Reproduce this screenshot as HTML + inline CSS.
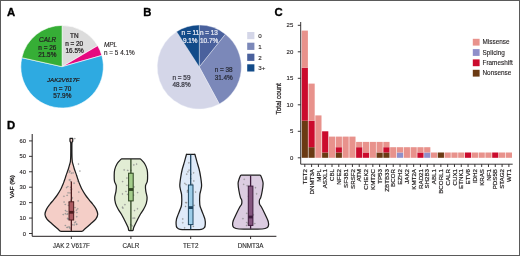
<!DOCTYPE html><html><head><meta charset="utf-8"><style>html,body{margin:0;padding:0;background:#fff;overflow:hidden;width:520px;height:256px;}svg{display:block;will-change:transform;font-family:"Liberation Sans",sans-serif;}</style></head><body>
<svg width="520" height="256" viewBox="0 0 520 256">
<rect x="0" y="0" width="520" height="256" fill="#fff"/>
<text x="6.9" y="16.0" font-size="11.3" font-weight="bold" fill="#000" stroke="#000" stroke-width="0.35">A</text>
<text x="143.3" y="16.4" font-size="11.3" font-weight="bold" fill="#000" stroke="#000" stroke-width="0.35">B</text>
<text x="274.5" y="16.2" font-size="11.3" font-weight="bold" fill="#000" stroke="#000" stroke-width="0.35">C</text>
<text x="6.9" y="128.6" font-size="11.3" font-weight="bold" fill="#000" stroke="#000" stroke-width="0.35">D</text>
<path d="M62.10,66.70 L62.10,25.40 A41.3,41.3 0 0 1 97.65,45.68 Z" fill="#dcdcdc" stroke="#fff" stroke-width="0.6" stroke-linejoin="round"/>
<path d="M62.10,66.70 L97.65,45.68 A41.3,41.3 0 0 1 101.83,55.43 Z" fill="#e5097f" stroke="#fff" stroke-width="0.6" stroke-linejoin="round"/>
<path d="M62.10,66.70 L101.83,55.43 A41.3,41.3 0 1 1 21.79,57.69 Z" fill="#2eaae1" stroke="#fff" stroke-width="0.6" stroke-linejoin="round"/>
<path d="M62.10,66.70 L21.79,57.69 A41.3,41.3 0 0 1 62.10,25.40 Z" fill="#36ae36" stroke="#fff" stroke-width="0.6" stroke-linejoin="round"/>
<text x="47.6" y="41.8" font-size="6.4" text-anchor="middle" fill="#231f20" stroke="#231f20" stroke-width="0.24" font-style="italic">CALR</text>
<text x="47.3" y="49.7" font-size="6.4" text-anchor="middle" fill="#231f20" stroke="#231f20" stroke-width="0.24" >n = 26</text>
<text x="47.3" y="57.3" font-size="6.4" text-anchor="middle" fill="#231f20" stroke="#231f20" stroke-width="0.24" >21.5%</text>
<text x="74.3" y="38" font-size="6.4" text-anchor="middle" fill="#231f20" stroke="#231f20" stroke-width="0.24" >TN</text>
<text x="74.2" y="45.8" font-size="6.4" text-anchor="middle" fill="#231f20" stroke="#231f20" stroke-width="0.24" >n = 20</text>
<text x="74.6" y="53.2" font-size="6.4" text-anchor="middle" fill="#231f20" stroke="#231f20" stroke-width="0.24" >16.5%</text>
<text x="63.3" y="82.3" font-size="6.1" text-anchor="middle" fill="#231f20" stroke="#231f20" stroke-width="0.24" font-style="italic">JAK2V617F</text>
<text x="62.4" y="90.5" font-size="6.4" text-anchor="middle" fill="#231f20" stroke="#231f20" stroke-width="0.24" >n = 70</text>
<text x="62.3" y="97.5" font-size="6.4" text-anchor="middle" fill="#231f20" stroke="#231f20" stroke-width="0.24" >57.9%</text>
<text x="104.0" y="47.2" font-size="6.4" text-anchor="start" fill="#231f20" stroke="#231f20" stroke-width="0.12" font-style="italic">MPL</text>
<text x="104.0" y="55" font-size="6.4" text-anchor="start" fill="#231f20" stroke="#231f20" stroke-width="0.12" >n = 5 4.1%</text>
<path d="M199.30,67.00 L199.30,25.00 A42,42 0 0 1 225.46,34.14 Z" fill="#4a619d" stroke="#eef0f8" stroke-width="0.4" stroke-linejoin="round"/>
<path d="M199.30,67.00 L225.46,34.14 A42,42 0 0 1 219.30,103.93 Z" fill="#7b88b9" stroke="#eef0f8" stroke-width="0.4" stroke-linejoin="round"/>
<path d="M199.30,67.00 L219.30,103.93 A42,42 0 0 1 176.57,31.68 Z" fill="#d4d6e8" stroke="#eef0f8" stroke-width="0.4" stroke-linejoin="round"/>
<path d="M199.30,67.00 L176.57,31.68 A42,42 0 0 1 199.30,25.00 Z" fill="#124b89" stroke="#eef0f8" stroke-width="0.4" stroke-linejoin="round"/>
<text x="190.3" y="34.8" font-size="6.4" text-anchor="middle" fill="#e8eaf4" stroke="#e8eaf4" stroke-width="0.24" >n = 11</text>
<text x="190.2" y="42.7" font-size="6.4" text-anchor="middle" fill="#e8eaf4" stroke="#e8eaf4" stroke-width="0.24" >9.1%</text>
<text x="208.9" y="34.8" font-size="6.4" text-anchor="middle" fill="#e8eaf4" stroke="#e8eaf4" stroke-width="0.24" >n = 13</text>
<text x="209.1" y="42.7" font-size="6.4" text-anchor="middle" fill="#e8eaf4" stroke="#e8eaf4" stroke-width="0.24" >10.7%</text>
<text x="223.7" y="72.2" font-size="6.4" text-anchor="middle" fill="#2a2d3a" stroke="#2a2d3a" stroke-width="0.24" >n = 38</text>
<text x="223.7" y="79.5" font-size="6.4" text-anchor="middle" fill="#2a2d3a" stroke="#2a2d3a" stroke-width="0.24" >31.4%</text>
<text x="181.5" y="80" font-size="6.4" text-anchor="middle" fill="#3a3a44" stroke="#3a3a44" stroke-width="0.24" >n = 59</text>
<text x="181.5" y="87.3" font-size="6.4" text-anchor="middle" fill="#3a3a44" stroke="#3a3a44" stroke-width="0.24" >48.8%</text>
<rect x="247.2" y="32" width="7.2" height="7.2" fill="#d4d6e8"/>
<text x="258.2" y="37.8" font-size="6.2" text-anchor="start" fill="#231f20" stroke="#231f20" stroke-width="0.12" >0</text>
<rect x="247.2" y="42.7" width="7.2" height="7.2" fill="#7b88b9"/>
<text x="258.2" y="48.5" font-size="6.2" text-anchor="start" fill="#231f20" stroke="#231f20" stroke-width="0.12" >1</text>
<rect x="247.2" y="53.7" width="7.2" height="7.2" fill="#4a619d"/>
<text x="258.2" y="59.5" font-size="6.2" text-anchor="start" fill="#231f20" stroke="#231f20" stroke-width="0.12" >2</text>
<rect x="247.2" y="64.3" width="7.2" height="7.2" fill="#124b89"/>
<text x="258.2" y="70.1" font-size="6.2" text-anchor="start" fill="#231f20" stroke="#231f20" stroke-width="0.12" >3+</text>
<rect x="301.70" y="120.70" width="6.2" height="37.10" fill="#6b3a13"/>
<rect x="301.70" y="67.70" width="6.2" height="53.00" fill="#cb0b2d"/>
<rect x="301.70" y="30.60" width="6.2" height="37.10" fill="#e8928c"/>
<rect x="308.50" y="147.20" width="6.2" height="10.60" fill="#6b3a13"/>
<rect x="308.50" y="120.70" width="6.2" height="26.50" fill="#cb0b2d"/>
<rect x="308.50" y="83.60" width="6.2" height="37.10" fill="#e8928c"/>
<rect x="315.31" y="115.40" width="6.2" height="42.40" fill="#e8928c"/>
<rect x="322.11" y="152.50" width="6.2" height="5.30" fill="#6b3a13"/>
<rect x="322.11" y="131.30" width="6.2" height="21.20" fill="#cb0b2d"/>
<rect x="328.91" y="136.60" width="6.2" height="21.20" fill="#e8928c"/>
<rect x="335.71" y="152.50" width="6.2" height="5.30" fill="#6b3a13"/>
<rect x="335.71" y="147.20" width="6.2" height="5.30" fill="#cb0b2d"/>
<rect x="335.71" y="136.60" width="6.2" height="10.60" fill="#e8928c"/>
<rect x="342.52" y="136.60" width="6.2" height="21.20" fill="#e8928c"/>
<rect x="349.32" y="136.60" width="6.2" height="21.20" fill="#e8928c"/>
<rect x="356.12" y="147.20" width="6.2" height="10.60" fill="#cb0b2d"/>
<rect x="356.12" y="141.90" width="6.2" height="5.30" fill="#e8928c"/>
<rect x="362.93" y="152.50" width="6.2" height="5.30" fill="#cb0b2d"/>
<rect x="362.93" y="141.90" width="6.2" height="10.60" fill="#e8928c"/>
<rect x="369.73" y="141.90" width="6.2" height="15.90" fill="#e8928c"/>
<rect x="376.53" y="152.50" width="6.2" height="5.30" fill="#6b3a13"/>
<rect x="376.53" y="141.90" width="6.2" height="10.60" fill="#e8928c"/>
<rect x="383.34" y="152.50" width="6.2" height="5.30" fill="#6b3a13"/>
<rect x="383.34" y="147.20" width="6.2" height="5.30" fill="#cb0b2d"/>
<rect x="383.34" y="141.90" width="6.2" height="5.30" fill="#e8928c"/>
<rect x="390.14" y="147.20" width="6.2" height="10.60" fill="#e8928c"/>
<rect x="396.94" y="152.50" width="6.2" height="5.30" fill="#8f8fca"/>
<rect x="396.94" y="147.20" width="6.2" height="5.30" fill="#e8928c"/>
<rect x="403.75" y="147.20" width="6.2" height="10.60" fill="#e8928c"/>
<rect x="410.55" y="147.20" width="6.2" height="10.60" fill="#e8928c"/>
<rect x="417.35" y="152.50" width="6.2" height="5.30" fill="#cb0b2d"/>
<rect x="417.35" y="147.20" width="6.2" height="5.30" fill="#e8928c"/>
<rect x="424.15" y="152.50" width="6.2" height="5.30" fill="#8f8fca"/>
<rect x="424.15" y="147.20" width="6.2" height="5.30" fill="#e8928c"/>
<rect x="430.96" y="152.50" width="6.2" height="5.30" fill="#e8928c"/>
<rect x="437.76" y="152.50" width="6.2" height="5.30" fill="#6b3a13"/>
<rect x="444.56" y="152.50" width="6.2" height="5.30" fill="#e8928c"/>
<rect x="451.37" y="152.50" width="6.2" height="5.30" fill="#e8928c"/>
<rect x="458.17" y="152.50" width="6.2" height="5.30" fill="#e8928c"/>
<rect x="464.97" y="152.50" width="6.2" height="5.30" fill="#cb0b2d"/>
<rect x="471.77" y="152.50" width="6.2" height="5.30" fill="#e8928c"/>
<rect x="478.58" y="152.50" width="6.2" height="5.30" fill="#e8928c"/>
<rect x="485.38" y="152.50" width="6.2" height="5.30" fill="#e8928c"/>
<rect x="492.18" y="152.50" width="6.2" height="5.30" fill="#cb0b2d"/>
<rect x="498.99" y="152.50" width="6.2" height="5.30" fill="#e8928c"/>
<rect x="505.79" y="152.50" width="6.2" height="5.30" fill="#e8928c"/>
<path d="M300.7,22 V164.2 H512.7" fill="none" stroke="#231f20" stroke-width="0.9"/>
<line x1="297.8" y1="157.80" x2="300.7" y2="157.80" stroke="#231f20" stroke-width="0.9"/>
<text x="293.3" y="159.9" font-size="6.0" text-anchor="end" fill="#231f20" stroke="#231f20" stroke-width="0.12" >0</text>
<line x1="297.8" y1="131.30" x2="300.7" y2="131.30" stroke="#231f20" stroke-width="0.9"/>
<text x="293.3" y="133.4" font-size="6.0" text-anchor="end" fill="#231f20" stroke="#231f20" stroke-width="0.12" >5</text>
<line x1="297.8" y1="104.80" x2="300.7" y2="104.80" stroke="#231f20" stroke-width="0.9"/>
<text x="293.3" y="106.9" font-size="6.0" text-anchor="end" fill="#231f20" stroke="#231f20" stroke-width="0.12" >10</text>
<line x1="297.8" y1="78.30" x2="300.7" y2="78.30" stroke="#231f20" stroke-width="0.9"/>
<text x="293.3" y="80.4" font-size="6.0" text-anchor="end" fill="#231f20" stroke="#231f20" stroke-width="0.12" >15</text>
<line x1="297.8" y1="51.80" x2="300.7" y2="51.80" stroke="#231f20" stroke-width="0.9"/>
<text x="293.3" y="53.90000000000001" font-size="6.0" text-anchor="end" fill="#231f20" stroke="#231f20" stroke-width="0.12" >20</text>
<line x1="297.8" y1="25.30" x2="300.7" y2="25.30" stroke="#231f20" stroke-width="0.9"/>
<text x="293.3" y="27.400000000000013" font-size="6.0" text-anchor="end" fill="#231f20" stroke="#231f20" stroke-width="0.12" >25</text>
<line x1="304.80" y1="164.2" x2="304.80" y2="167" stroke="#231f20" stroke-width="0.9"/>
<text transform="translate(306.90,169.0) rotate(-90)" font-size="6.2" text-anchor="end" fill="#231f20" stroke="#231f20" stroke-width="0.2">TET2</text>
<line x1="311.60" y1="164.2" x2="311.60" y2="167" stroke="#231f20" stroke-width="0.9"/>
<text transform="translate(313.70,169.0) rotate(-90)" font-size="6.2" text-anchor="end" fill="#231f20" stroke="#231f20" stroke-width="0.2">DNMT3A</text>
<line x1="318.41" y1="164.2" x2="318.41" y2="167" stroke="#231f20" stroke-width="0.9"/>
<text transform="translate(320.51,169.0) rotate(-90)" font-size="6.2" text-anchor="end" fill="#231f20" stroke="#231f20" stroke-width="0.2">MPL</text>
<line x1="325.21" y1="164.2" x2="325.21" y2="167" stroke="#231f20" stroke-width="0.9"/>
<text transform="translate(327.31,169.0) rotate(-90)" font-size="6.2" text-anchor="end" fill="#231f20" stroke="#231f20" stroke-width="0.2">ASXL1</text>
<line x1="332.01" y1="164.2" x2="332.01" y2="167" stroke="#231f20" stroke-width="0.9"/>
<text transform="translate(334.11,169.0) rotate(-90)" font-size="6.2" text-anchor="end" fill="#231f20" stroke="#231f20" stroke-width="0.2">CBL</text>
<line x1="338.81" y1="164.2" x2="338.81" y2="167" stroke="#231f20" stroke-width="0.9"/>
<text transform="translate(340.92,169.0) rotate(-90)" font-size="6.2" text-anchor="end" fill="#231f20" stroke="#231f20" stroke-width="0.2">NFE2</text>
<line x1="345.62" y1="164.2" x2="345.62" y2="167" stroke="#231f20" stroke-width="0.9"/>
<text transform="translate(347.72,169.0) rotate(-90)" font-size="6.2" text-anchor="end" fill="#231f20" stroke="#231f20" stroke-width="0.2">SF3B1</text>
<line x1="352.42" y1="164.2" x2="352.42" y2="167" stroke="#231f20" stroke-width="0.9"/>
<text transform="translate(354.52,169.0) rotate(-90)" font-size="6.2" text-anchor="end" fill="#231f20" stroke="#231f20" stroke-width="0.2">SRSF2</text>
<line x1="359.22" y1="164.2" x2="359.22" y2="167" stroke="#231f20" stroke-width="0.9"/>
<text transform="translate(361.32,169.0) rotate(-90)" font-size="6.2" text-anchor="end" fill="#231f20" stroke="#231f20" stroke-width="0.2">ATM</text>
<line x1="366.03" y1="164.2" x2="366.03" y2="167" stroke="#231f20" stroke-width="0.9"/>
<text transform="translate(368.13,169.0) rotate(-90)" font-size="6.2" text-anchor="end" fill="#231f20" stroke="#231f20" stroke-width="0.2">CHEK2</text>
<line x1="372.83" y1="164.2" x2="372.83" y2="167" stroke="#231f20" stroke-width="0.9"/>
<text transform="translate(374.93,169.0) rotate(-90)" font-size="6.2" text-anchor="end" fill="#231f20" stroke="#231f20" stroke-width="0.2">KMT2C</text>
<line x1="379.63" y1="164.2" x2="379.63" y2="167" stroke="#231f20" stroke-width="0.9"/>
<text transform="translate(381.73,169.0) rotate(-90)" font-size="6.2" text-anchor="end" fill="#231f20" stroke="#231f20" stroke-width="0.2">TP53</text>
<line x1="386.44" y1="164.2" x2="386.44" y2="167" stroke="#231f20" stroke-width="0.9"/>
<text transform="translate(388.54,169.0) rotate(-90)" font-size="6.2" text-anchor="end" fill="#231f20" stroke="#231f20" stroke-width="0.2">ZBTB33</text>
<line x1="393.24" y1="164.2" x2="393.24" y2="167" stroke="#231f20" stroke-width="0.9"/>
<text transform="translate(395.34,169.0) rotate(-90)" font-size="6.2" text-anchor="end" fill="#231f20" stroke="#231f20" stroke-width="0.2">BCOR</text>
<line x1="400.04" y1="164.2" x2="400.04" y2="167" stroke="#231f20" stroke-width="0.9"/>
<text transform="translate(402.14,169.0) rotate(-90)" font-size="6.2" text-anchor="end" fill="#231f20" stroke="#231f20" stroke-width="0.2">EZH2</text>
<line x1="406.85" y1="164.2" x2="406.85" y2="167" stroke="#231f20" stroke-width="0.9"/>
<text transform="translate(408.95,169.0) rotate(-90)" font-size="6.2" text-anchor="end" fill="#231f20" stroke="#231f20" stroke-width="0.2">JAK2</text>
<line x1="413.65" y1="164.2" x2="413.65" y2="167" stroke="#231f20" stroke-width="0.9"/>
<text transform="translate(415.75,169.0) rotate(-90)" font-size="6.2" text-anchor="end" fill="#231f20" stroke="#231f20" stroke-width="0.2">KMT2A</text>
<line x1="420.45" y1="164.2" x2="420.45" y2="167" stroke="#231f20" stroke-width="0.9"/>
<text transform="translate(422.55,169.0) rotate(-90)" font-size="6.2" text-anchor="end" fill="#231f20" stroke="#231f20" stroke-width="0.2">RAD21</text>
<line x1="427.25" y1="164.2" x2="427.25" y2="167" stroke="#231f20" stroke-width="0.9"/>
<text transform="translate(429.35,169.0) rotate(-90)" font-size="6.2" text-anchor="end" fill="#231f20" stroke="#231f20" stroke-width="0.2">SH2B3</text>
<line x1="434.06" y1="164.2" x2="434.06" y2="167" stroke="#231f20" stroke-width="0.9"/>
<text transform="translate(436.16,169.0) rotate(-90)" font-size="6.2" text-anchor="end" fill="#231f20" stroke="#231f20" stroke-width="0.2">ABL1</text>
<line x1="440.86" y1="164.2" x2="440.86" y2="167" stroke="#231f20" stroke-width="0.9"/>
<text transform="translate(442.96,169.0) rotate(-90)" font-size="6.2" text-anchor="end" fill="#231f20" stroke="#231f20" stroke-width="0.2">BCORL1</text>
<line x1="447.66" y1="164.2" x2="447.66" y2="167" stroke="#231f20" stroke-width="0.9"/>
<text transform="translate(449.76,169.0) rotate(-90)" font-size="6.2" text-anchor="end" fill="#231f20" stroke="#231f20" stroke-width="0.2">CALR</text>
<line x1="454.47" y1="164.2" x2="454.47" y2="167" stroke="#231f20" stroke-width="0.9"/>
<text transform="translate(456.57,169.0) rotate(-90)" font-size="6.2" text-anchor="end" fill="#231f20" stroke="#231f20" stroke-width="0.2">CUX1</text>
<line x1="461.27" y1="164.2" x2="461.27" y2="167" stroke="#231f20" stroke-width="0.9"/>
<text transform="translate(463.37,169.0) rotate(-90)" font-size="6.2" text-anchor="end" fill="#231f20" stroke="#231f20" stroke-width="0.2">ETNK1</text>
<line x1="468.07" y1="164.2" x2="468.07" y2="167" stroke="#231f20" stroke-width="0.9"/>
<text transform="translate(470.17,169.0) rotate(-90)" font-size="6.2" text-anchor="end" fill="#231f20" stroke="#231f20" stroke-width="0.2">ETV6</text>
<line x1="474.88" y1="164.2" x2="474.88" y2="167" stroke="#231f20" stroke-width="0.9"/>
<text transform="translate(476.98,169.0) rotate(-90)" font-size="6.2" text-anchor="end" fill="#231f20" stroke="#231f20" stroke-width="0.2">IDH2</text>
<line x1="481.68" y1="164.2" x2="481.68" y2="167" stroke="#231f20" stroke-width="0.9"/>
<text transform="translate(483.78,169.0) rotate(-90)" font-size="6.2" text-anchor="end" fill="#231f20" stroke="#231f20" stroke-width="0.2">KRAS</text>
<line x1="488.48" y1="164.2" x2="488.48" y2="167" stroke="#231f20" stroke-width="0.9"/>
<text transform="translate(490.58,169.0) rotate(-90)" font-size="6.2" text-anchor="end" fill="#231f20" stroke="#231f20" stroke-width="0.2">NF1</text>
<line x1="495.28" y1="164.2" x2="495.28" y2="167" stroke="#231f20" stroke-width="0.9"/>
<text transform="translate(497.38,169.0) rotate(-90)" font-size="6.2" text-anchor="end" fill="#231f20" stroke="#231f20" stroke-width="0.2">PDS5B</text>
<line x1="502.09" y1="164.2" x2="502.09" y2="167" stroke="#231f20" stroke-width="0.9"/>
<text transform="translate(504.19,169.0) rotate(-90)" font-size="6.2" text-anchor="end" fill="#231f20" stroke="#231f20" stroke-width="0.2">STAG2</text>
<line x1="508.89" y1="164.2" x2="508.89" y2="167" stroke="#231f20" stroke-width="0.9"/>
<text transform="translate(510.99,169.0) rotate(-90)" font-size="6.2" text-anchor="end" fill="#231f20" stroke="#231f20" stroke-width="0.2">WT1</text>
<text transform="translate(281.4,98.8) rotate(-90)" font-size="6.5" text-anchor="middle" fill="#231f20" stroke="#231f20" stroke-width="0.25">Total count</text>
<rect x="472.8" y="38.8" width="6.8" height="6.8" fill="#e8928c"/>
<text x="482.5" y="44.4" font-size="6.4" text-anchor="start" fill="#231f20" stroke="#231f20" stroke-width="0.12" >Missense</text>
<rect x="472.8" y="49.1" width="6.8" height="6.8" fill="#8f8fca"/>
<text x="482.5" y="54.7" font-size="6.4" text-anchor="start" fill="#231f20" stroke="#231f20" stroke-width="0.12" >Splicing</text>
<rect x="472.8" y="59.4" width="6.8" height="6.8" fill="#cb0b2d"/>
<text x="482.5" y="65.0" font-size="6.4" text-anchor="start" fill="#231f20" stroke="#231f20" stroke-width="0.12" >Frameshift</text>
<rect x="472.8" y="69.8" width="6.8" height="6.8" fill="#6b3a13"/>
<text x="482.5" y="75.39999999999999" font-size="6.4" text-anchor="start" fill="#231f20" stroke="#231f20" stroke-width="0.12" >Nonsense</text>
<path d="M32.2,134 V236.3 H276.4" fill="none" stroke="#231f20" stroke-width="1"/>
<line x1="29" y1="233.50" x2="32.2" y2="233.50" stroke="#231f20" stroke-width="0.9"/>
<text x="26.0" y="235.5" font-size="5.8" text-anchor="end" fill="#231f20" stroke="#231f20" stroke-width="0.12" >0</text>
<line x1="29" y1="218.07" x2="32.2" y2="218.07" stroke="#231f20" stroke-width="0.9"/>
<text x="26.0" y="220.07" font-size="5.8" text-anchor="end" fill="#231f20" stroke="#231f20" stroke-width="0.12" >10</text>
<line x1="29" y1="202.64" x2="32.2" y2="202.64" stroke="#231f20" stroke-width="0.9"/>
<text x="26.0" y="204.64" font-size="5.8" text-anchor="end" fill="#231f20" stroke="#231f20" stroke-width="0.12" >20</text>
<line x1="29" y1="187.21" x2="32.2" y2="187.21" stroke="#231f20" stroke-width="0.9"/>
<text x="26.0" y="189.21" font-size="5.8" text-anchor="end" fill="#231f20" stroke="#231f20" stroke-width="0.12" >30</text>
<line x1="29" y1="171.78" x2="32.2" y2="171.78" stroke="#231f20" stroke-width="0.9"/>
<text x="26.0" y="173.78" font-size="5.8" text-anchor="end" fill="#231f20" stroke="#231f20" stroke-width="0.12" >40</text>
<line x1="29" y1="156.35" x2="32.2" y2="156.35" stroke="#231f20" stroke-width="0.9"/>
<text x="26.0" y="158.35000000000002" font-size="5.8" text-anchor="end" fill="#231f20" stroke="#231f20" stroke-width="0.12" >50</text>
<line x1="29" y1="140.92" x2="32.2" y2="140.92" stroke="#231f20" stroke-width="0.9"/>
<text x="26.0" y="142.92000000000002" font-size="5.8" text-anchor="end" fill="#231f20" stroke="#231f20" stroke-width="0.12" >60</text>
<text transform="translate(14.4,186.7) rotate(-90)" font-size="6.2" text-anchor="middle" fill="#231f20" stroke="#231f20" stroke-width="0.3">VAF (%)</text>
<path d="M72.25,138.40 C72.32,138.45 72.58,138.22 72.65,138.70 C72.72,139.18 72.77,140.60 72.65,141.30 C72.53,142.00 72.07,141.45 71.95,142.90 C71.82,144.35 71.90,147.98 71.90,150.00 C71.90,152.02 71.92,153.50 71.95,155.00 C71.98,156.50 72.03,157.87 72.10,159.00 C72.17,160.13 72.19,160.88 72.35,161.80 C72.51,162.72 72.73,163.35 73.05,164.50 C73.37,165.65 73.85,167.43 74.25,168.70 C74.65,169.97 75.05,170.97 75.45,172.10 C75.85,173.23 76.27,174.37 76.65,175.50 C77.03,176.63 77.37,177.75 77.75,178.90 C78.13,180.05 78.52,181.25 78.95,182.40 C79.38,183.55 79.85,184.67 80.35,185.80 C80.85,186.93 81.12,187.70 81.95,189.20 C82.78,190.70 84.18,193.07 85.35,194.80 C86.52,196.53 87.68,197.98 88.95,199.60 C90.22,201.22 91.73,202.87 92.95,204.50 C94.17,206.13 95.45,207.77 96.25,209.40 C97.05,211.03 97.83,212.67 97.75,214.30 C97.67,215.93 96.95,217.58 95.75,219.20 C94.55,220.82 92.38,222.37 90.55,224.00 C88.72,225.63 86.25,227.78 84.75,229.00 C83.25,230.22 83.70,230.90 81.55,231.30 C79.40,231.70 73.47,231.38 71.85,231.40 L70.85,231.40 C69.23,231.38 63.30,231.70 61.15,231.30 C59.00,230.90 59.45,230.22 57.95,229.00 C56.45,227.78 53.98,225.63 52.15,224.00 C50.32,222.37 48.15,220.82 46.95,219.20 C45.75,217.58 45.03,215.93 44.95,214.30 C44.87,212.67 45.65,211.03 46.45,209.40 C47.25,207.77 48.53,206.13 49.75,204.50 C50.97,202.87 52.48,201.22 53.75,199.60 C55.02,197.98 56.18,196.53 57.35,194.80 C58.52,193.07 59.92,190.70 60.75,189.20 C61.58,187.70 61.85,186.93 62.35,185.80 C62.85,184.67 63.32,183.55 63.75,182.40 C64.18,181.25 64.57,180.05 64.95,178.90 C65.33,177.75 65.67,176.63 66.05,175.50 C66.43,174.37 66.85,173.23 67.25,172.10 C67.65,170.97 68.05,169.97 68.45,168.70 C68.85,167.43 69.33,165.65 69.65,164.50 C69.97,163.35 70.19,162.72 70.35,161.80 C70.51,160.88 70.53,160.13 70.60,159.00 C70.67,157.87 70.72,156.50 70.75,155.00 C70.78,153.50 70.80,152.02 70.80,150.00 C70.80,147.98 70.88,144.35 70.75,142.90 C70.62,141.45 70.17,142.00 70.05,141.30 C69.93,140.60 69.98,139.18 70.05,138.70 C70.12,138.22 70.38,138.45 70.45,138.40 Z" fill="#f4cec7" stroke="#1e1e1e" stroke-width="1.25" stroke-linejoin="round"/>
<circle cx="71.96" cy="198.66" r="0.6" fill="#9a9a9a" stroke="#8a8a8a" stroke-width="0.3"/>
<circle cx="71.38" cy="173.13" r="0.6" fill="#9a9a9a" stroke="#8a8a8a" stroke-width="0.3"/>
<circle cx="78.81" cy="192.05" r="0.6" fill="#9a9a9a" stroke="#8a8a8a" stroke-width="0.3"/>
<circle cx="72.74" cy="213.44" r="0.6" fill="#9a9a9a" stroke="#8a8a8a" stroke-width="0.3"/>
<circle cx="72.16" cy="197.58" r="0.6" fill="#9a9a9a" stroke="#8a8a8a" stroke-width="0.3"/>
<circle cx="68.08" cy="192.81" r="0.6" fill="#9a9a9a" stroke="#8a8a8a" stroke-width="0.3"/>
<circle cx="67.00" cy="211.50" r="0.6" fill="#9a9a9a" stroke="#8a8a8a" stroke-width="0.3"/>
<circle cx="67.74" cy="218.72" r="0.6" fill="#9a9a9a" stroke="#8a8a8a" stroke-width="0.3"/>
<circle cx="69.96" cy="228.13" r="0.6" fill="#9a9a9a" stroke="#8a8a8a" stroke-width="0.3"/>
<circle cx="71.16" cy="208.16" r="0.6" fill="#9a9a9a" stroke="#8a8a8a" stroke-width="0.3"/>
<circle cx="77.73" cy="208.83" r="0.6" fill="#9a9a9a" stroke="#8a8a8a" stroke-width="0.3"/>
<circle cx="74.14" cy="224.95" r="0.6" fill="#9a9a9a" stroke="#8a8a8a" stroke-width="0.3"/>
<circle cx="69.41" cy="213.96" r="0.6" fill="#9a9a9a" stroke="#8a8a8a" stroke-width="0.3"/>
<circle cx="70.70" cy="200.24" r="0.6" fill="#9a9a9a" stroke="#8a8a8a" stroke-width="0.3"/>
<circle cx="67.58" cy="213.73" r="0.6" fill="#9a9a9a" stroke="#8a8a8a" stroke-width="0.3"/>
<circle cx="73.35" cy="202.20" r="0.6" fill="#9a9a9a" stroke="#8a8a8a" stroke-width="0.3"/>
<circle cx="78.14" cy="200.92" r="0.6" fill="#9a9a9a" stroke="#8a8a8a" stroke-width="0.3"/>
<circle cx="76.41" cy="210.21" r="0.6" fill="#9a9a9a" stroke="#8a8a8a" stroke-width="0.3"/>
<circle cx="69.59" cy="170.83" r="0.6" fill="#9a9a9a" stroke="#8a8a8a" stroke-width="0.3"/>
<circle cx="73.06" cy="172.94" r="0.6" fill="#9a9a9a" stroke="#8a8a8a" stroke-width="0.3"/>
<circle cx="67.14" cy="195.36" r="0.6" fill="#9a9a9a" stroke="#8a8a8a" stroke-width="0.3"/>
<circle cx="71.08" cy="229.28" r="0.6" fill="#9a9a9a" stroke="#8a8a8a" stroke-width="0.3"/>
<circle cx="63.24" cy="214.58" r="0.6" fill="#9a9a9a" stroke="#8a8a8a" stroke-width="0.3"/>
<circle cx="65.34" cy="225.51" r="0.6" fill="#9a9a9a" stroke="#8a8a8a" stroke-width="0.3"/>
<circle cx="71.72" cy="189.01" r="0.6" fill="#9a9a9a" stroke="#8a8a8a" stroke-width="0.3"/>
<circle cx="69.08" cy="202.71" r="0.6" fill="#9a9a9a" stroke="#8a8a8a" stroke-width="0.3"/>
<circle cx="76.76" cy="216.71" r="0.6" fill="#9a9a9a" stroke="#8a8a8a" stroke-width="0.3"/>
<circle cx="71.65" cy="206.62" r="0.6" fill="#9a9a9a" stroke="#8a8a8a" stroke-width="0.3"/>
<circle cx="69.37" cy="172.22" r="0.6" fill="#9a9a9a" stroke="#8a8a8a" stroke-width="0.3"/>
<circle cx="74.08" cy="211.97" r="0.6" fill="#9a9a9a" stroke="#8a8a8a" stroke-width="0.3"/>
<circle cx="75.60" cy="221.83" r="0.6" fill="#9a9a9a" stroke="#8a8a8a" stroke-width="0.3"/>
<circle cx="74.09" cy="183.18" r="0.6" fill="#9a9a9a" stroke="#8a8a8a" stroke-width="0.3"/>
<circle cx="69.67" cy="227.36" r="0.6" fill="#9a9a9a" stroke="#8a8a8a" stroke-width="0.3"/>
<circle cx="76.90" cy="212.58" r="0.6" fill="#9a9a9a" stroke="#8a8a8a" stroke-width="0.3"/>
<circle cx="67.13" cy="214.34" r="0.6" fill="#9a9a9a" stroke="#8a8a8a" stroke-width="0.3"/>
<circle cx="70.02" cy="192.89" r="0.6" fill="#9a9a9a" stroke="#8a8a8a" stroke-width="0.3"/>
<circle cx="70.63" cy="187.25" r="0.6" fill="#9a9a9a" stroke="#8a8a8a" stroke-width="0.3"/>
<circle cx="70.90" cy="211.93" r="0.6" fill="#9a9a9a" stroke="#8a8a8a" stroke-width="0.3"/>
<circle cx="68.39" cy="205.30" r="0.6" fill="#9a9a9a" stroke="#8a8a8a" stroke-width="0.3"/>
<circle cx="72.38" cy="210.59" r="0.6" fill="#9a9a9a" stroke="#8a8a8a" stroke-width="0.3"/>
<circle cx="72.40" cy="209.52" r="0.6" fill="#9a9a9a" stroke="#8a8a8a" stroke-width="0.3"/>
<circle cx="71.92" cy="202.40" r="0.6" fill="#9a9a9a" stroke="#8a8a8a" stroke-width="0.3"/>
<circle cx="72.36" cy="224.73" r="0.6" fill="#9a9a9a" stroke="#8a8a8a" stroke-width="0.3"/>
<circle cx="69.31" cy="179.97" r="0.6" fill="#9a9a9a" stroke="#8a8a8a" stroke-width="0.3"/>
<circle cx="65.48" cy="210.56" r="0.6" fill="#9a9a9a" stroke="#8a8a8a" stroke-width="0.3"/>
<circle cx="65.28" cy="204.49" r="0.6" fill="#9a9a9a" stroke="#8a8a8a" stroke-width="0.3"/>
<circle cx="67.85" cy="186.55" r="0.6" fill="#9a9a9a" stroke="#8a8a8a" stroke-width="0.3"/>
<circle cx="70.04" cy="179.82" r="0.6" fill="#9a9a9a" stroke="#8a8a8a" stroke-width="0.3"/>
<circle cx="63.94" cy="196.24" r="0.6" fill="#9a9a9a" stroke="#8a8a8a" stroke-width="0.3"/>
<circle cx="67.36" cy="227.37" r="0.6" fill="#9a9a9a" stroke="#8a8a8a" stroke-width="0.3"/>
<circle cx="65.39" cy="213.70" r="0.6" fill="#9a9a9a" stroke="#8a8a8a" stroke-width="0.3"/>
<circle cx="74.76" cy="222.67" r="0.6" fill="#9a9a9a" stroke="#8a8a8a" stroke-width="0.3"/>
<circle cx="64.08" cy="201.99" r="0.6" fill="#9a9a9a" stroke="#8a8a8a" stroke-width="0.3"/>
<circle cx="76.48" cy="224.38" r="0.6" fill="#9a9a9a" stroke="#8a8a8a" stroke-width="0.3"/>
<circle cx="66.60" cy="187.56" r="0.6" fill="#9a9a9a" stroke="#8a8a8a" stroke-width="0.3"/>
<circle cx="71.00" cy="189.72" r="0.6" fill="#9a9a9a" stroke="#8a8a8a" stroke-width="0.3"/>
<circle cx="76.77" cy="224.05" r="0.6" fill="#9a9a9a" stroke="#8a8a8a" stroke-width="0.3"/>
<circle cx="71.46" cy="215.10" r="0.6" fill="#9a9a9a" stroke="#8a8a8a" stroke-width="0.3"/>
<circle cx="69.73" cy="203.65" r="0.6" fill="#9a9a9a" stroke="#8a8a8a" stroke-width="0.3"/>
<circle cx="69.93" cy="171.51" r="0.6" fill="#9a9a9a" stroke="#8a8a8a" stroke-width="0.3"/>
<circle cx="67.64" cy="218.31" r="0.6" fill="#9a9a9a" stroke="#8a8a8a" stroke-width="0.3"/>
<circle cx="70.88" cy="181.52" r="0.6" fill="#9a9a9a" stroke="#8a8a8a" stroke-width="0.3"/>
<circle cx="67.01" cy="227.45" r="0.6" fill="#9a9a9a" stroke="#8a8a8a" stroke-width="0.3"/>
<circle cx="68.91" cy="226.83" r="0.6" fill="#9a9a9a" stroke="#8a8a8a" stroke-width="0.3"/>
<circle cx="75.02" cy="207.57" r="0.6" fill="#9a9a9a" stroke="#8a8a8a" stroke-width="0.3"/>
<circle cx="68.39" cy="219.08" r="0.6" fill="#9a9a9a" stroke="#8a8a8a" stroke-width="0.3"/>
<circle cx="74.8" cy="138.6" r="0.6" fill="#9a9a9a" stroke="#8a8a8a" stroke-width="0.3"/>
<circle cx="79.9" cy="171" r="0.6" fill="#9a9a9a" stroke="#8a8a8a" stroke-width="0.3"/>
<circle cx="77.6" cy="181" r="0.6" fill="#9a9a9a" stroke="#8a8a8a" stroke-width="0.3"/>
<circle cx="78.5" cy="164" r="0.6" fill="#9a9a9a" stroke="#8a8a8a" stroke-width="0.3"/>
<line x1="71.35" y1="181.5" x2="71.35" y2="231" stroke="#4e1c1e" stroke-width="1.3"/>
<rect x="69.05" y="201.8" width="4.6" height="18.20" fill="#ad5a61" stroke="#4e1c1e" stroke-width="1.0"/>
<rect x="69.05" y="210.90" width="4.6" height="2.8" fill="#4e1c1e"/>
<line x1="71.35" y1="236.3" x2="71.35" y2="239" stroke="#231f20" stroke-width="0.9"/>
<text x="71.35" y="248.1" font-size="6.3" text-anchor="middle" fill="#2a2a2a" stroke="#2a2a2a" stroke-width="0.12" >JAK 2 V617F</text>
<path d="M140.20,158.80 C140.32,158.90 140.15,158.58 140.90,159.40 C141.65,160.22 143.67,162.00 144.70,163.70 C145.73,165.40 146.62,167.65 147.10,169.60 C147.58,171.55 147.57,173.45 147.60,175.40 C147.63,177.35 147.65,179.55 147.30,181.30 C146.95,183.05 145.73,184.17 145.50,185.90 C145.27,187.63 145.63,189.75 145.90,191.70 C146.17,193.65 147.03,195.65 147.10,197.60 C147.17,199.55 146.88,201.45 146.30,203.40 C145.72,205.35 144.57,207.53 143.60,209.30 C142.63,211.07 141.48,212.33 140.50,214.00 C139.52,215.67 138.80,217.12 137.70,219.30 C136.60,221.48 134.67,225.28 133.90,227.10 C133.13,228.92 133.40,229.63 133.10,230.20 C132.80,230.77 132.27,230.45 132.10,230.50 L129.70,230.50 C129.53,230.45 129.00,230.77 128.70,230.20 C128.40,229.63 128.67,228.92 127.90,227.10 C127.13,225.28 125.20,221.48 124.10,219.30 C123.00,217.12 122.28,215.67 121.30,214.00 C120.32,212.33 119.17,211.07 118.20,209.30 C117.23,207.53 116.08,205.35 115.50,203.40 C114.92,201.45 114.63,199.55 114.70,197.60 C114.77,195.65 115.63,193.65 115.90,191.70 C116.17,189.75 116.53,187.63 116.30,185.90 C116.07,184.17 114.85,183.05 114.50,181.30 C114.15,179.55 114.17,177.35 114.20,175.40 C114.23,173.45 114.22,171.55 114.70,169.60 C115.18,167.65 116.07,165.40 117.10,163.70 C118.13,162.00 120.15,160.22 120.90,159.40 C121.65,158.58 121.48,158.90 121.60,158.80 Z" fill="#e2edd4" stroke="#1e1e1e" stroke-width="1.25" stroke-linejoin="round"/>
<circle cx="130.97" cy="170.30" r="0.6" fill="#9a9a9a" stroke="#8a8a8a" stroke-width="0.3"/>
<circle cx="122.95" cy="208.08" r="0.6" fill="#9a9a9a" stroke="#8a8a8a" stroke-width="0.3"/>
<circle cx="124.18" cy="169.88" r="0.6" fill="#9a9a9a" stroke="#8a8a8a" stroke-width="0.3"/>
<circle cx="122.46" cy="207.22" r="0.6" fill="#9a9a9a" stroke="#8a8a8a" stroke-width="0.3"/>
<circle cx="133.61" cy="195.10" r="0.6" fill="#9a9a9a" stroke="#8a8a8a" stroke-width="0.3"/>
<circle cx="126.91" cy="178.00" r="0.6" fill="#9a9a9a" stroke="#8a8a8a" stroke-width="0.3"/>
<circle cx="134.51" cy="210.54" r="0.6" fill="#9a9a9a" stroke="#8a8a8a" stroke-width="0.3"/>
<circle cx="134.02" cy="186.89" r="0.6" fill="#9a9a9a" stroke="#8a8a8a" stroke-width="0.3"/>
<circle cx="124.91" cy="204.64" r="0.6" fill="#9a9a9a" stroke="#8a8a8a" stroke-width="0.3"/>
<circle cx="122.61" cy="181.56" r="0.6" fill="#9a9a9a" stroke="#8a8a8a" stroke-width="0.3"/>
<circle cx="133.82" cy="164.94" r="0.6" fill="#9a9a9a" stroke="#8a8a8a" stroke-width="0.3"/>
<circle cx="130.30" cy="180.64" r="0.6" fill="#9a9a9a" stroke="#8a8a8a" stroke-width="0.3"/>
<circle cx="137.59" cy="192.60" r="0.6" fill="#9a9a9a" stroke="#8a8a8a" stroke-width="0.3"/>
<circle cx="130.72" cy="224.65" r="0.6" fill="#9a9a9a" stroke="#8a8a8a" stroke-width="0.3"/>
<circle cx="125.97" cy="191.45" r="0.6" fill="#9a9a9a" stroke="#8a8a8a" stroke-width="0.3"/>
<circle cx="131.31" cy="200.46" r="0.6" fill="#9a9a9a" stroke="#8a8a8a" stroke-width="0.3"/>
<circle cx="132.02" cy="225.78" r="0.6" fill="#9a9a9a" stroke="#8a8a8a" stroke-width="0.3"/>
<circle cx="137.47" cy="208.77" r="0.6" fill="#9a9a9a" stroke="#8a8a8a" stroke-width="0.3"/>
<circle cx="122.46" cy="193.95" r="0.6" fill="#9a9a9a" stroke="#8a8a8a" stroke-width="0.3"/>
<circle cx="127.53" cy="194.33" r="0.6" fill="#9a9a9a" stroke="#8a8a8a" stroke-width="0.3"/>
<circle cx="127.77" cy="170.40" r="0.6" fill="#9a9a9a" stroke="#8a8a8a" stroke-width="0.3"/>
<circle cx="133.11" cy="218.10" r="0.6" fill="#9a9a9a" stroke="#8a8a8a" stroke-width="0.3"/>
<circle cx="134.68" cy="218.03" r="0.6" fill="#9a9a9a" stroke="#8a8a8a" stroke-width="0.3"/>
<circle cx="129.08" cy="180.57" r="0.6" fill="#9a9a9a" stroke="#8a8a8a" stroke-width="0.3"/>
<circle cx="127.08" cy="185.40" r="0.6" fill="#9a9a9a" stroke="#8a8a8a" stroke-width="0.3"/>
<circle cx="136.59" cy="164.09" r="0.6" fill="#9a9a9a" stroke="#8a8a8a" stroke-width="0.3"/>
<line x1="130.9" y1="159" x2="130.9" y2="230.3" stroke="#2d4320" stroke-width="1.3"/>
<rect x="128.60" y="173.2" width="4.6" height="27.70" fill="#a3cd8a" stroke="#2d4320" stroke-width="1.0"/>
<rect x="128.60" y="188.10" width="4.6" height="2.8" fill="#2d4320"/>
<line x1="130.9" y1="236.3" x2="130.9" y2="239" stroke="#231f20" stroke-width="0.9"/>
<text x="130.9" y="248.1" font-size="6.3" text-anchor="middle" fill="#2a2a2a" stroke="#2a2a2a" stroke-width="0.12" >CALR</text>
<path d="M194.80,154.30 C194.85,154.42 194.75,153.77 195.10,155.00 C195.45,156.23 196.22,159.28 196.90,161.70 C197.58,164.12 198.57,166.90 199.20,169.50 C199.83,172.10 200.30,174.68 200.70,177.30 C201.10,179.92 201.57,183.10 201.60,185.20 C201.63,187.30 201.20,188.30 200.90,189.90 C200.60,191.50 199.98,192.35 199.80,194.80 C199.62,197.25 199.55,202.15 199.80,204.60 C200.05,207.05 200.73,207.88 201.30,209.50 C201.87,211.12 202.60,212.73 203.20,214.35 C203.80,215.97 204.55,217.57 204.90,219.20 C205.25,220.82 205.37,222.72 205.30,224.10 C205.23,225.48 205.17,226.62 204.50,227.50 C203.83,228.38 203.43,229.05 201.30,229.40 C199.17,229.75 193.30,229.57 191.70,229.60 L189.70,229.60 C188.10,229.57 182.23,229.75 180.10,229.40 C177.97,229.05 177.57,228.38 176.90,227.50 C176.23,226.62 176.17,225.48 176.10,224.10 C176.03,222.72 176.15,220.82 176.50,219.20 C176.85,217.57 177.60,215.97 178.20,214.35 C178.80,212.73 179.53,211.12 180.10,209.50 C180.67,207.88 181.35,207.05 181.60,204.60 C181.85,202.15 181.78,197.25 181.60,194.80 C181.42,192.35 180.80,191.50 180.50,189.90 C180.20,188.30 179.77,187.30 179.80,185.20 C179.83,183.10 180.30,179.92 180.70,177.30 C181.10,174.68 181.57,172.10 182.20,169.50 C182.83,166.90 183.82,164.12 184.50,161.70 C185.18,159.28 185.95,156.23 186.30,155.00 C186.65,153.77 186.55,154.42 186.60,154.30 Z" fill="#dfeaf9" stroke="#1e1e1e" stroke-width="1.25" stroke-linejoin="round"/>
<circle cx="190.83" cy="174.20" r="0.6" fill="#9a9a9a" stroke="#8a8a8a" stroke-width="0.3"/>
<circle cx="185.68" cy="202.57" r="0.6" fill="#9a9a9a" stroke="#8a8a8a" stroke-width="0.3"/>
<circle cx="190.23" cy="222.84" r="0.6" fill="#9a9a9a" stroke="#8a8a8a" stroke-width="0.3"/>
<circle cx="193.80" cy="180.97" r="0.6" fill="#9a9a9a" stroke="#8a8a8a" stroke-width="0.3"/>
<circle cx="193.35" cy="226.40" r="0.6" fill="#9a9a9a" stroke="#8a8a8a" stroke-width="0.3"/>
<circle cx="186.11" cy="184.62" r="0.6" fill="#9a9a9a" stroke="#8a8a8a" stroke-width="0.3"/>
<circle cx="195.58" cy="191.99" r="0.6" fill="#9a9a9a" stroke="#8a8a8a" stroke-width="0.3"/>
<circle cx="184.61" cy="227.85" r="0.6" fill="#9a9a9a" stroke="#8a8a8a" stroke-width="0.3"/>
<circle cx="189.05" cy="170.11" r="0.6" fill="#9a9a9a" stroke="#8a8a8a" stroke-width="0.3"/>
<circle cx="188.88" cy="162.84" r="0.6" fill="#9a9a9a" stroke="#8a8a8a" stroke-width="0.3"/>
<circle cx="184.85" cy="183.36" r="0.6" fill="#9a9a9a" stroke="#8a8a8a" stroke-width="0.3"/>
<circle cx="187.95" cy="171.81" r="0.6" fill="#9a9a9a" stroke="#8a8a8a" stroke-width="0.3"/>
<circle cx="182.75" cy="218.97" r="0.6" fill="#9a9a9a" stroke="#8a8a8a" stroke-width="0.3"/>
<circle cx="186.71" cy="174.14" r="0.6" fill="#9a9a9a" stroke="#8a8a8a" stroke-width="0.3"/>
<circle cx="186.56" cy="202.65" r="0.6" fill="#9a9a9a" stroke="#8a8a8a" stroke-width="0.3"/>
<circle cx="185.57" cy="206.46" r="0.6" fill="#9a9a9a" stroke="#8a8a8a" stroke-width="0.3"/>
<circle cx="192.06" cy="184.16" r="0.6" fill="#9a9a9a" stroke="#8a8a8a" stroke-width="0.3"/>
<circle cx="187.53" cy="190.43" r="0.6" fill="#9a9a9a" stroke="#8a8a8a" stroke-width="0.3"/>
<circle cx="190.68" cy="178.37" r="0.6" fill="#9a9a9a" stroke="#8a8a8a" stroke-width="0.3"/>
<circle cx="182.78" cy="222.73" r="0.6" fill="#9a9a9a" stroke="#8a8a8a" stroke-width="0.3"/>
<circle cx="194.10" cy="205.31" r="0.6" fill="#9a9a9a" stroke="#8a8a8a" stroke-width="0.3"/>
<circle cx="193.62" cy="172.87" r="0.6" fill="#9a9a9a" stroke="#8a8a8a" stroke-width="0.3"/>
<circle cx="187.37" cy="191.90" r="0.6" fill="#9a9a9a" stroke="#8a8a8a" stroke-width="0.3"/>
<circle cx="188.89" cy="224.42" r="0.6" fill="#9a9a9a" stroke="#8a8a8a" stroke-width="0.3"/>
<line x1="190.7" y1="154.5" x2="190.7" y2="229.3" stroke="#1f4560" stroke-width="1.3"/>
<rect x="188.40" y="185.0" width="4.6" height="39.60" fill="#9dcde9" stroke="#1f4560" stroke-width="1.0"/>
<rect x="188.40" y="206.20" width="4.6" height="2.8" fill="#1f4560"/>
<line x1="190.7" y1="236.3" x2="190.7" y2="239" stroke="#231f20" stroke-width="0.9"/>
<text x="190.7" y="248.1" font-size="6.3" text-anchor="middle" fill="#2a2a2a" stroke="#2a2a2a" stroke-width="0.12" >TET2</text>
<path d="M260.10,175.20 C260.23,175.33 260.50,175.15 260.90,176.00 C261.30,176.85 262.13,179.02 262.50,180.30 C262.87,181.58 263.13,182.00 263.10,183.70 C263.07,185.40 262.68,188.22 262.30,190.50 C261.92,192.78 261.27,195.82 260.80,197.40 C260.33,198.98 259.70,198.87 259.50,200.00 C259.30,201.13 259.30,203.07 259.60,204.20 C259.90,205.33 260.43,205.22 261.30,206.80 C262.17,208.38 263.70,211.42 264.80,213.70 C265.90,215.98 267.27,218.68 267.90,220.50 C268.53,222.32 268.68,223.45 268.60,224.60 C268.52,225.75 268.47,226.67 267.40,227.40 C266.33,228.13 264.83,228.72 262.20,229.00 C259.57,229.28 253.37,229.08 251.60,229.10 L249.60,229.10 C247.83,229.08 241.63,229.28 239.00,229.00 C236.37,228.72 234.87,228.13 233.80,227.40 C232.73,226.67 232.68,225.75 232.60,224.60 C232.52,223.45 232.67,222.32 233.30,220.50 C233.93,218.68 235.30,215.98 236.40,213.70 C237.50,211.42 239.03,208.38 239.90,206.80 C240.77,205.22 241.30,205.33 241.60,204.20 C241.90,203.07 241.90,201.13 241.70,200.00 C241.50,198.87 240.87,198.98 240.40,197.40 C239.93,195.82 239.28,192.78 238.90,190.50 C238.52,188.22 238.13,185.40 238.10,183.70 C238.07,182.00 238.33,181.58 238.70,180.30 C239.07,179.02 239.90,176.85 240.30,176.00 C240.70,175.15 240.97,175.33 241.10,175.20 Z" fill="#dccce1" stroke="#1e1e1e" stroke-width="1.25" stroke-linejoin="round"/>
<circle cx="243.65" cy="184.35" r="0.6" fill="#9a9a9a" stroke="#8a8a8a" stroke-width="0.3"/>
<circle cx="256.61" cy="193.79" r="0.6" fill="#9a9a9a" stroke="#8a8a8a" stroke-width="0.3"/>
<circle cx="253.40" cy="214.81" r="0.6" fill="#9a9a9a" stroke="#8a8a8a" stroke-width="0.3"/>
<circle cx="248.41" cy="196.28" r="0.6" fill="#9a9a9a" stroke="#8a8a8a" stroke-width="0.3"/>
<circle cx="247.17" cy="185.73" r="0.6" fill="#9a9a9a" stroke="#8a8a8a" stroke-width="0.3"/>
<circle cx="255.50" cy="187.65" r="0.6" fill="#9a9a9a" stroke="#8a8a8a" stroke-width="0.3"/>
<circle cx="242.94" cy="218.63" r="0.6" fill="#9a9a9a" stroke="#8a8a8a" stroke-width="0.3"/>
<circle cx="248.29" cy="223.54" r="0.6" fill="#9a9a9a" stroke="#8a8a8a" stroke-width="0.3"/>
<circle cx="249.08" cy="222.41" r="0.6" fill="#9a9a9a" stroke="#8a8a8a" stroke-width="0.3"/>
<circle cx="244.25" cy="179.25" r="0.6" fill="#9a9a9a" stroke="#8a8a8a" stroke-width="0.3"/>
<circle cx="254.80" cy="223.57" r="0.6" fill="#9a9a9a" stroke="#8a8a8a" stroke-width="0.3"/>
<circle cx="246.73" cy="222.49" r="0.6" fill="#9a9a9a" stroke="#8a8a8a" stroke-width="0.3"/>
<circle cx="246.56" cy="225.47" r="0.6" fill="#9a9a9a" stroke="#8a8a8a" stroke-width="0.3"/>
<circle cx="246.79" cy="213.32" r="0.6" fill="#9a9a9a" stroke="#8a8a8a" stroke-width="0.3"/>
<line x1="250.6" y1="175.5" x2="250.6" y2="228.8" stroke="#3d1a3c" stroke-width="1.3"/>
<rect x="248.30" y="186.1" width="4.6" height="39.30" fill="#84557f" stroke="#3d1a3c" stroke-width="1.0"/>
<rect x="248.30" y="215.60" width="4.6" height="2.8" fill="#3d1a3c"/>
<line x1="250.6" y1="236.3" x2="250.6" y2="239" stroke="#231f20" stroke-width="0.9"/>
<text x="250.6" y="248.1" font-size="6.3" text-anchor="middle" fill="#2a2a2a" stroke="#2a2a2a" stroke-width="0.12" >DNMT3A</text>
<rect x="0.5" y="0.5" width="519" height="255" fill="none" stroke="#5a5a5a" stroke-width="1"/>
</svg></body></html>
